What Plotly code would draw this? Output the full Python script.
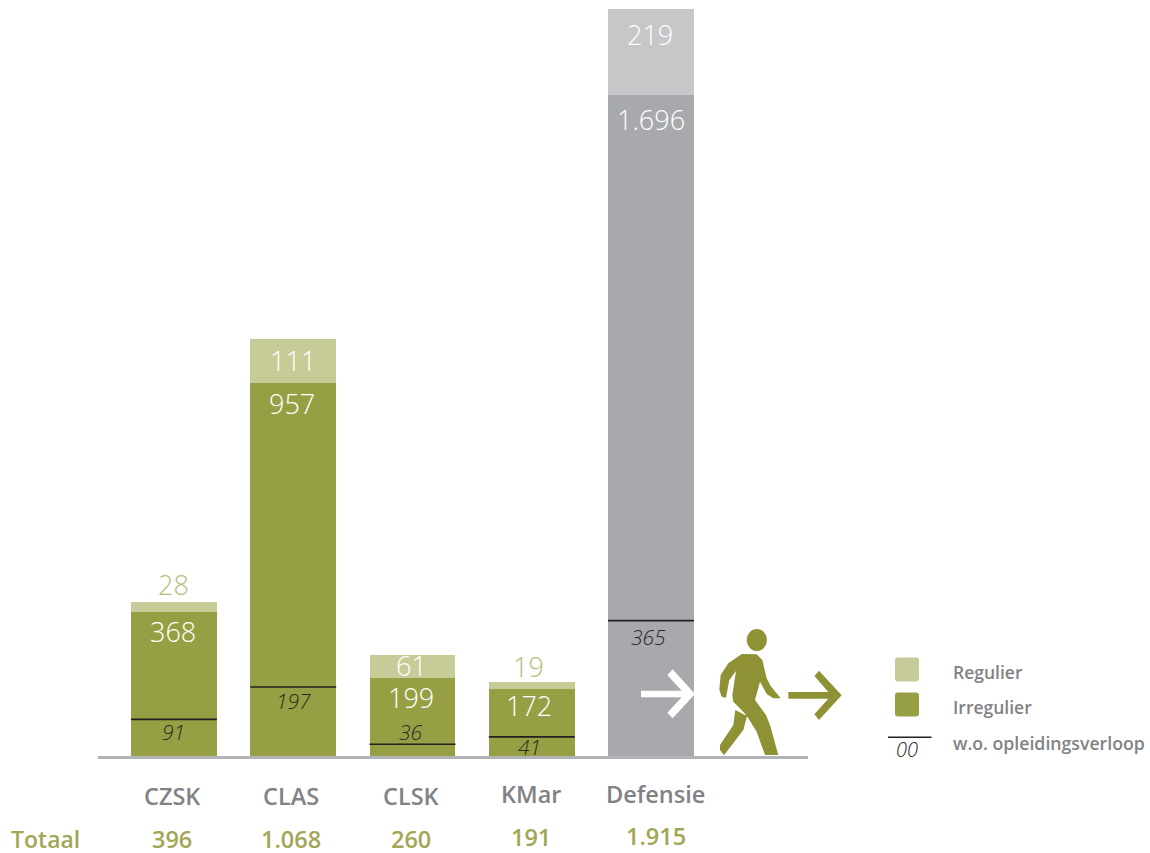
import plotly.graph_objects as go

W, H = 1150, 853
categories = ["CZSK", "CLAS", "CLSK", "KMar", "Defensie"]
regulier = [28, 111, 61, 19, 219]
irregulier = [368, 957, 199, 172, 1696]
totaal = [396, 1068, 260, 191, 1915]
opleiding = [91, 197, 36, 41, 365]
# height of the black marker (not equal to the printed number)
opleiding_marker = [94, 177, 30, 49, 347]

LIGHT = ["#c7cb97"] * 4 + ["#c6c7c9"]
DARK = ["#979f44"] * 4 + ["#a7a9ac"]
TOTAL_GREEN = "#a3a655"
GREY_TEXT = "#808285"
ICON = "#8f9234"
FONT = "Open Sans"

# plot geometry
PX_UNIT = 0.39
BASE = 756
LEFT, RIGHT = 98, 808
C0, STEP = 174, 119.25


def nl(v):
    return f"{v:,}".replace(",", ".")


def px(x, y):
    return x / W, 1 - y / H


def path(points, close=True):
    parts = []
    for i, (x, y) in enumerate(points):
        a, b = px(x, y)
        parts.append(("M" if i == 0 else "L") + f"{a:.5f},{b:.5f}")
    return " ".join(parts) + (" Z" if close else "")


def zoom_pts(pts):
    return [(600 + x / 3, 600 + y / 3) for x, y in pts]


def round_rect(x0, y0, x1, y1, r):
    seq = [("M", x0 + r, y0), ("L", x1 - r, y0), ("Q", x1, y0, x1, y0 + r), ("L", x1, y1 - r),
           ("Q", x1, y1, x1 - r, y1), ("L", x0 + r, y1), ("Q", x0, y1, x0, y1 - r), ("L", x0, y0 + r),
           ("Q", x0, y0, x0 + r, y0)]
    out = []
    for s in seq:
        coords = s[1:]
        txt = []
        for i in range(0, len(coords), 2):
            a, b = px(coords[i], coords[i + 1])
            txt.append(f"{a:.5f},{b:.5f}")
        out.append(s[0] + " ".join(txt))
    return " ".join(out) + " Z"


fig = go.Figure()
fig.add_bar(x=list(range(5)), y=irregulier, width=0.72, marker=dict(color=DARK, line_width=0), name="Irregulier", showlegend=False)
fig.add_bar(x=list(range(5)), y=regulier, width=0.72, marker=dict(color=LIGHT, line_width=0), name="Regulier", showlegend=False)

seg_x, seg_y = [], []
for i, v in enumerate(opleiding_marker):
    seg_x += [i - 0.36, i + 0.36, None]
    seg_y += [v, v, None]
fig.add_scatter(x=seg_x, y=seg_y, mode="lines", line=dict(color="#231f20", width=1.6), showlegend=False,
                name="w.o. opleidingsverloop", hoverinfo="skip")

ann = []


def label(i, y, text, yshift, size, color, xshift=0, italic=False, weight=300):
    ann.append(dict(x=i, y=y, xref="x", yref="y", text=text, showarrow=False, xanchor="center", yanchor="middle",
                    yshift=yshift, xshift=xshift,
                    font=dict(family=FONT, size=size, color=color, weight=weight, style="italic" if italic else "normal")))


reg_shift = [17, -21, -11, 15, -25]
reg_x = [-1, 0, -1, -3, -1.5]
reg_color = ["#b5bd7c", "#ffffff", "#ffffff", "#b5bd7c", "#ffffff"]
irr_shift = [-19, -21, -19, -17, -25]
irr_x = [-1.5, -1, -2, -3, 0]
opl_shift = [-13, -14, 12, -10, -16]
opl_x = [-1, 0, -2, -2, -2.5]
cat_xshift = [-2, -2, -2, -1, 4]
cat_shift = [-40, -40, -40, -38, -38]
tot_xshift = [-2, -2, -2, -1, 5]
tot_shift = [-83, -83, -83, -81, -80]

for i in range(5):
    label(i, totaal[i], nl(regulier[i]), reg_shift[i], 27, reg_color[i], xshift=reg_x[i])
    label(i, irregulier[i], nl(irregulier[i]), irr_shift[i], 27, "#ffffff", xshift=irr_x[i])
    label(i, opleiding_marker[i], nl(opleiding[i]), opl_shift[i], 21, "#2b2a22", xshift=opl_x[i], italic=True)
    label(i, 0, categories[i], cat_shift[i], 23.5, GREY_TEXT, xshift=cat_xshift[i], weight=600)
    label(i, 0, nl(totaal[i]), tot_shift[i], 23.5, TOTAL_GREEN, xshift=tot_xshift[i], weight=600)


def plain(x, y, text, size, color, anchor="left", weight=600, italic=False):
    a, b = px(x, y)
    ann.append(dict(x=a, y=b, xref="paper", yref="paper", text=text, showarrow=False, xanchor=anchor, yanchor="middle",
                    font=dict(family=FONT, size=size, color=color, weight=weight, style="italic" if italic else "normal")))


plain(9, 839, "Totaal", 23, TOTAL_GREEN)
plain(951, 672, "Regulier", 17.5, GREY_TEXT)
plain(951, 707, "Irregulier", 17.5, GREY_TEXT)
plain(951, 743, "w.o. opleidingsverloop", 17.7, GREY_TEXT)
plain(907, 749, "00", 20, "#2b2a22", anchor="center", weight=300, italic=True)

shapes = []


def poly(pts, color):
    shapes.append(dict(type="path", xref="paper", yref="paper", path=path(zoom_pts(pts)), fillcolor=color, line_width=0, layer="above"))


poly([(123, 272), (245, 272), (202, 225), (218, 208), (285, 282), (218, 355), (202, 338), (245, 292), (123, 292)], "#ffffff")
poly([(565, 276), (685, 276), (643, 228), (657, 212), (725, 286), (657, 360), (643, 343), (685, 296), (565, 296)], ICON)
# walking figure
poly([(425, 162), (470, 163), (487, 180), (500, 235), (512, 258), (542, 295), (520, 295), (500, 282), (480, 245), (465, 300),
      (498, 345), (510, 375), (535, 465), (495, 465), (470, 395), (445, 355), (436, 342), (400, 305), (397, 285), (408, 213),
      (388, 240), (378, 293), (365, 290), (358, 270), (362, 225), (385, 190)], ICON)
poly([(406, 330), (435, 345), (442, 345), (430, 390), (372, 466), (360, 450), (360, 435), (400, 375)], ICON)
a0, b0 = px(746.7, 629)
a1, b1 = px(767, 651)
shapes.append(dict(type="circle", xref="paper", yref="paper", x0=a0, x1=a1, y0=b0, y1=b1, fillcolor=ICON, line_width=0))
# legend keys
shapes.append(dict(type="path", xref="paper", yref="paper", path=round_rect(895, 657.5, 919, 681.5, 3), fillcolor="#c7cb97", line_width=0))
shapes.append(dict(type="path", xref="paper", yref="paper", path=round_rect(895, 692.5, 919, 716.5, 3), fillcolor="#979f44", line_width=0))
shapes.append(dict(type="path", xref="paper", yref="paper", path=path([(888, 737.3), (931.5, 737.3)], close=False), line=dict(color="#231f20", width=1.6)))

fig.update_layout(
    width=W, height=H, autosize=False, margin=dict(l=0, r=0, t=0, b=0),
    paper_bgcolor="#ffffff", plot_bgcolor="#ffffff", barmode="stack", bargap=0, showlegend=False,
    annotations=ann, shapes=shapes, font=dict(family=FONT),
    xaxis=dict(domain=[LEFT / W, RIGHT / W], range=[(LEFT - C0) / STEP, (RIGHT - C0) / STEP], showgrid=False, zeroline=False,
               showticklabels=False, ticks="", showline=True, linecolor="#b1b3b6", linewidth=2.5, fixedrange=True),
    yaxis=dict(domain=[(H - BASE) / H, 1], range=[0, BASE / PX_UNIT], visible=False, fixedrange=True),
)

fig.write_html("out.html", config=dict(displayModeBar=False),
               post_script="document.body.style.margin='0';document.body.style.overflow='hidden';")
